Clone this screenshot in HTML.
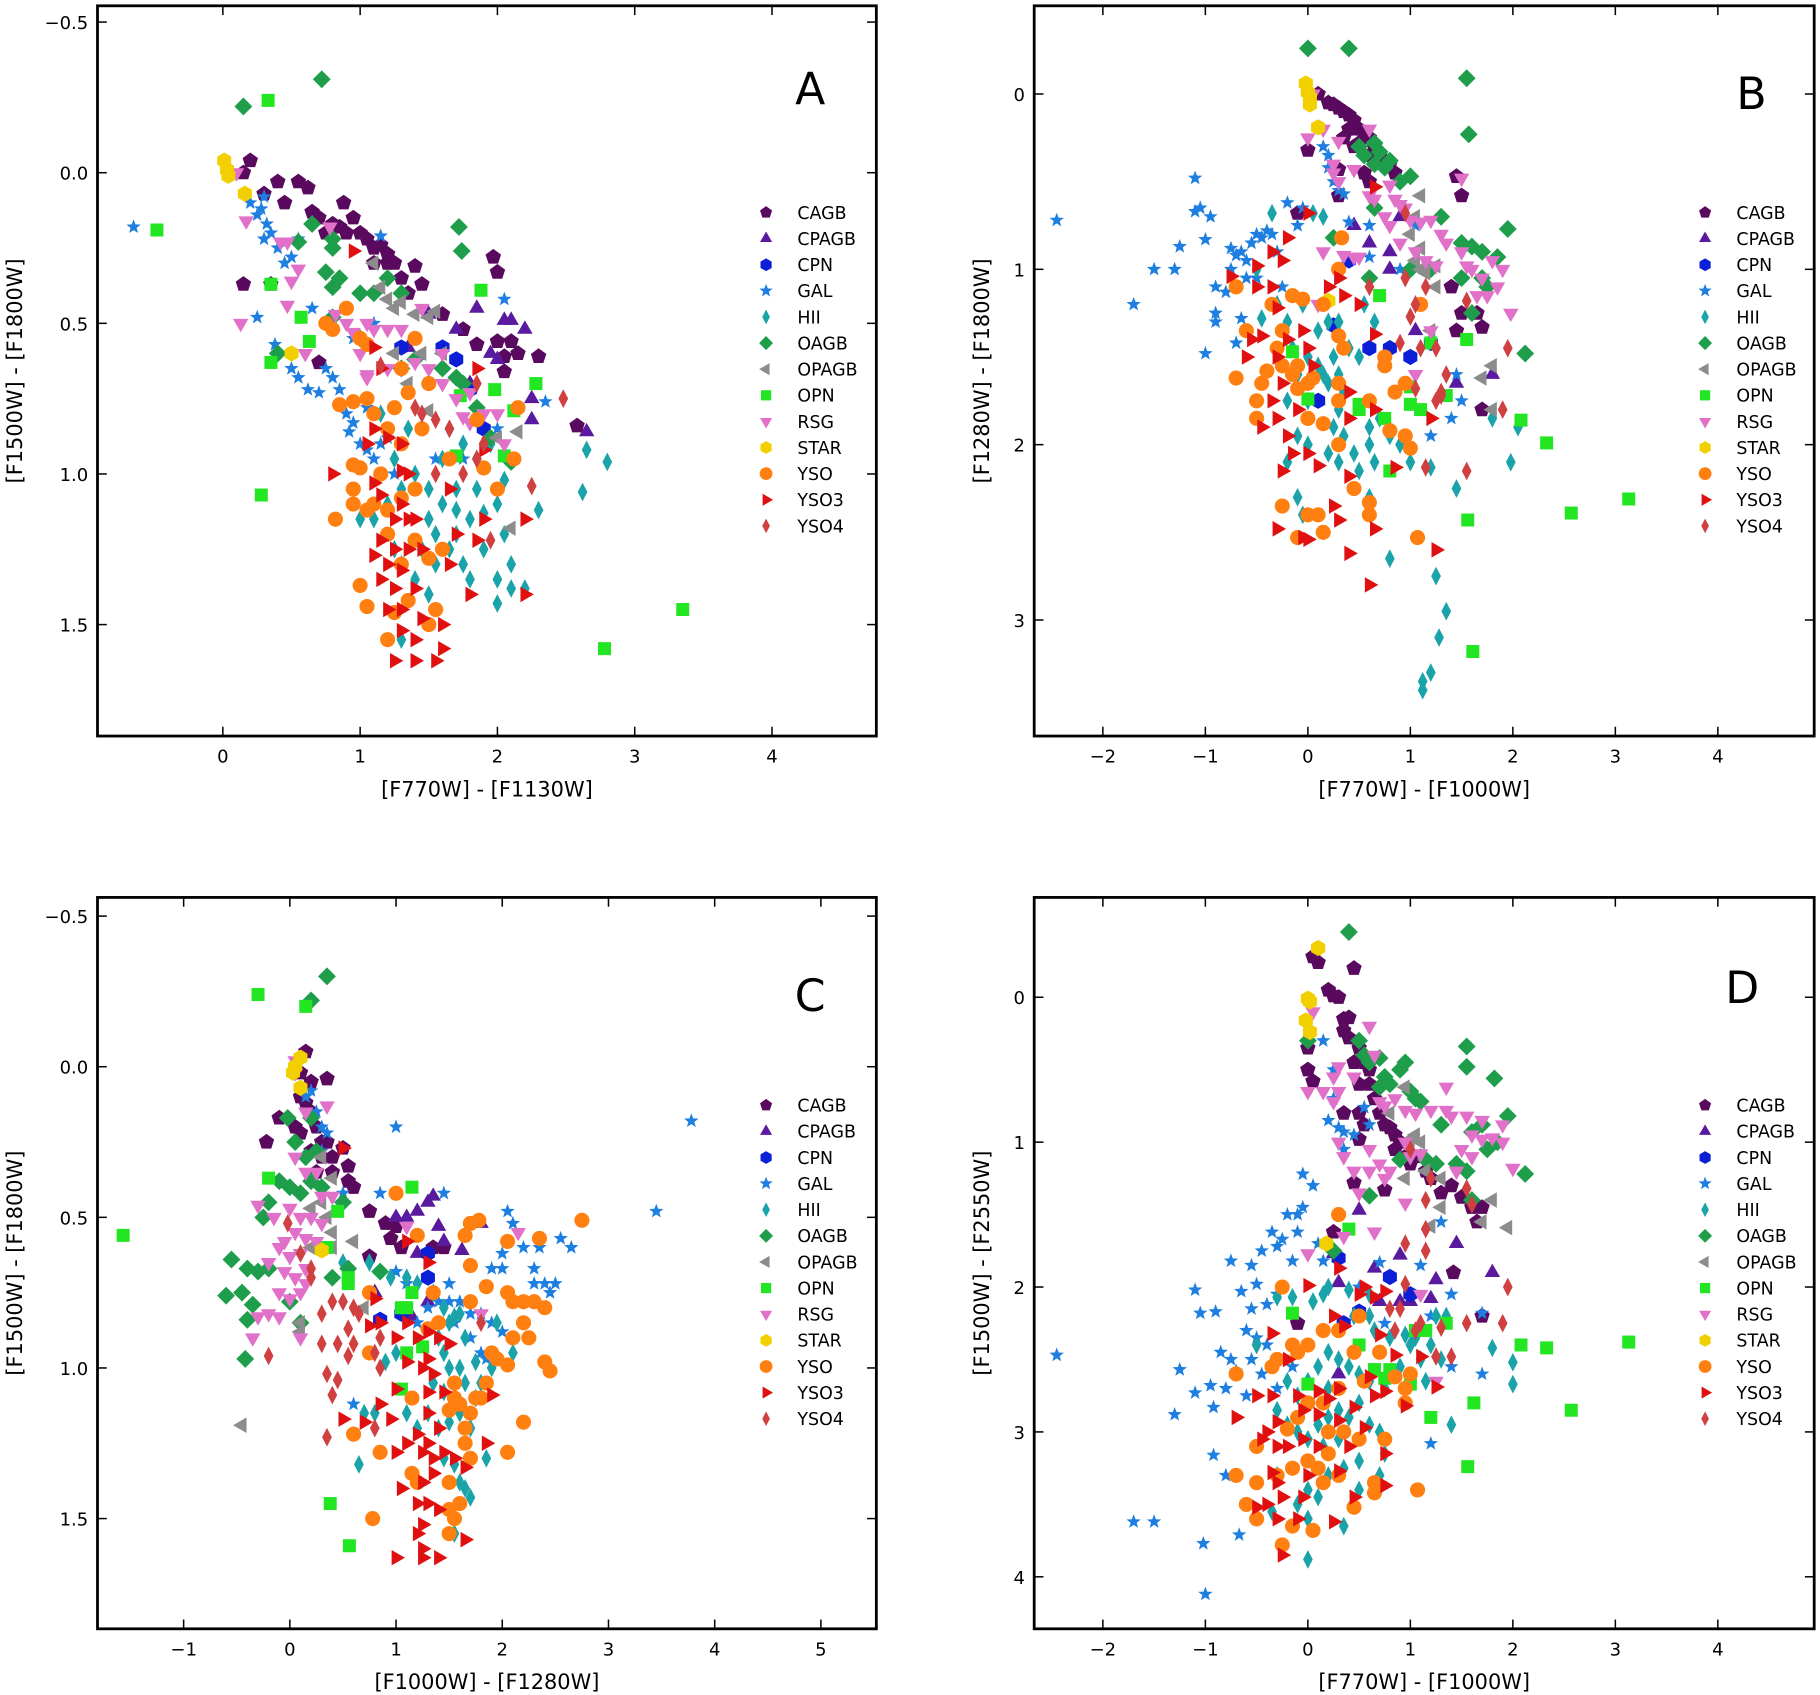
<!DOCTYPE html>
<html><head><meta charset="utf-8"><style>
html,body{margin:0;padding:0;background:#fff;}
svg{display:block;font-family:"DejaVu Sans","Liberation Sans",sans-serif;}
</style></head><body>
<svg id="fig" width="1820" height="1695" viewBox="0 0 1568 1460" preserveAspectRatio="none" xmlns="http://www.w3.org/2000/svg"></svg>
<script>
const classNames = ["CAGB","CPAGB","CPN","GAL","HII","OAGB","OPAGB","OPN","RSG","STAR","YSO","YSO3","YSO4"];
// ---------- Panel A: [F770W]-[F1130W] vs [F1500W]-[F1800W]
const A_CAGB=[[0.2,-0.04],[0.15,0.0],[0.3,0.07],[0.4,0.03],[0.45,0.1],[0.55,0.03],[0.62,0.05],[0.65,0.13],[0.7,0.15],[0.75,0.2],[0.8,0.17],[0.88,0.1],[0.9,0.2],[0.95,0.15],[1.0,0.2],[1.05,0.22],[1.1,0.25],[1.15,0.24],[1.2,0.27],[1.25,0.3],[1.3,0.35],[1.4,0.31],[1.45,0.37],[1.35,0.4],[1.6,0.47],[1.75,0.52],[1.85,0.57],[1.97,0.28],[2.0,0.33],[2.0,0.56],[2.1,0.56],[2.05,0.61],[2.15,0.6],[2.3,0.61],[2.05,0.66],[0.15,0.37],[0.7,0.63],[2.58,0.84],[0.35,0.37],[1.2,0.3],[0.85,0.18],[1.1,0.3]];
const A_CPAGB=[[1.7,0.52],[1.85,0.45],[2.05,0.49],[2.1,0.49],[2.2,0.52],[1.95,0.6],[2.0,0.62],[2.25,0.75],[2.25,0.82],[2.65,0.86],[1.5,0.47],[1.35,0.58],[1.8,0.7]];
const A_CPN=[[1.6,0.58],[1.7,0.62],[1.8,0.72],[1.9,0.85],[1.3,0.58]];
const A_GAL=[[-0.65,0.18],[0.2,0.1],[0.25,0.14],[0.28,0.12],[0.32,0.17],[0.35,0.2],[0.3,0.22],[0.4,0.25],[0.45,0.3],[0.5,0.28],[0.55,0.22],[0.25,0.48],[0.38,0.57],[0.5,0.65],[0.55,0.68],[0.62,0.72],[0.7,0.73],[0.75,0.65],[0.8,0.68],[0.85,0.72],[0.9,0.8],[0.92,0.86],[0.95,0.83],[1.0,0.9],[1.05,0.92],[1.1,0.95],[1.15,0.9],[1.2,0.88],[0.95,0.55],[1.05,0.78],[1.25,1.0],[2.05,0.42],[2.35,0.76],[1.55,0.95],[1.75,0.95],[0.3,0.08],[1.15,0.21],[2.0,0.85],[0.65,0.45],[1.1,0.5]];
const A_HII=[[1.1,1.15],[1.2,1.1],[1.3,1.05],[1.4,1.0],[1.5,1.05],[1.6,1.1],[1.7,1.12],[1.8,1.15],[1.9,1.13],[2.0,1.1],[2.05,1.2],[1.5,1.15],[1.45,1.25],[1.55,1.3],[1.65,1.25],[1.75,1.3],[1.8,1.35],[1.3,1.3],[1.4,1.35],[1.5,1.4],[1.55,1.2],[1.7,1.05],[1.6,0.95],[1.65,0.85],[1.75,0.9],[1.85,0.95],[1.95,0.9],[2.0,1.35],[2.1,1.3],[2.1,1.38],[2.2,1.38],[2.0,1.43],[2.05,1.02],[2.3,1.12],[2.62,1.06],[2.65,0.92],[2.8,0.96],[1.25,0.95],[1.35,0.85],[1.15,0.8],[1.3,1.55],[1.25,1.25],[1.0,1.15],[1.7,1.2],[1.85,1.05],[1.9,1.25]];
const A_OAGB=[[0.15,-0.22],[0.72,-0.31],[1.72,0.18],[1.74,0.26],[0.55,0.23],[0.65,0.17],[0.8,0.22],[0.8,0.25],[0.75,0.33],[0.85,0.35],[0.8,0.38],[1.0,0.4],[1.1,0.4],[1.2,0.35],[1.3,0.4],[0.8,0.48],[1.0,0.55],[1.3,0.65],[1.6,0.65],[1.7,0.68],[1.75,0.7],[1.85,0.78],[1.95,0.88],[2.1,0.96],[0.4,0.6],[1.4,0.62]];
const A_OPAGB=[[1.1,0.3],[1.15,0.38],[1.2,0.42],[1.25,0.45],[1.3,0.43],[1.4,0.47],[1.5,0.48],[1.55,0.46],[1.25,0.6],[1.45,0.6],[1.6,0.6],[1.5,0.79],[2.0,0.88],[2.15,0.86],[2.1,1.18],[1.35,0.7]];
const A_OPN=[[-0.48,0.19],[0.33,-0.24],[0.35,0.37],[0.57,0.48],[0.63,0.56],[0.35,0.63],[0.28,1.07],[1.88,0.39],[2.28,0.7],[1.98,0.72],[1.73,0.74],[1.7,0.94],[2.05,0.94],[2.12,0.79],[3.35,1.45],[2.78,1.58]];
const A_RSG=[[0.1,0.0],[0.17,0.16],[0.13,0.5],[0.42,0.23],[0.47,0.23],[0.55,0.32],[0.5,0.36],[0.47,0.44],[0.78,0.18],[0.82,0.47],[0.9,0.5],[0.95,0.53],[1.05,0.5],[1.1,0.52],[1.2,0.52],[1.3,0.52],[1.0,0.6],[1.05,0.67],[1.2,0.65],[1.3,0.65],[1.4,0.63],[1.5,0.65],[1.6,0.7],[1.7,0.75],[1.8,0.73],[1.75,0.81],[1.8,0.83],[1.9,0.8],[2.0,0.8],[2.05,0.9],[1.45,0.45],[0.6,0.6],[1.05,0.68],[1.6,0.6]];
const A_STAR=[[0.01,-0.04],[0.03,-0.01],[0.04,0.01],[0.16,0.07],[0.5,0.6]];
const A_YSO=[[0.9,0.45],[0.75,0.5],[0.8,0.52],[1.0,0.55],[1.05,0.57],[1.4,0.55],[1.3,0.65],[0.85,0.77],[0.95,0.76],[1.05,0.75],[1.1,0.8],[1.25,0.78],[1.35,0.73],[1.5,0.7],[1.2,0.85],[1.3,0.9],[1.45,0.85],[0.95,0.97],[1.0,0.98],[0.95,1.05],[0.95,1.1],[1.05,1.12],[1.1,1.1],[1.2,1.12],[1.3,1.08],[1.4,1.05],[0.82,1.15],[1.2,1.2],[1.4,1.22],[1.5,1.28],[1.3,1.3],[1.0,1.37],[1.05,1.44],[1.25,1.46],[1.35,1.42],[1.55,1.45],[1.5,1.5],[1.2,1.55],[1.85,0.82],[2.15,0.78],[2.12,0.95],[1.9,0.98],[1.65,0.95],[2.0,1.05],[1.6,1.25],[1.15,1.0]];
const A_YSO3=[[0.95,0.26],[0.8,1.0],[1.1,0.58],[1.15,0.65],[1.1,0.85],[1.2,0.88],[1.3,0.9],[1.3,0.99],[1.35,1.0],[1.1,1.03],[1.15,1.07],[1.3,1.1],[1.25,1.15],[1.35,1.15],[1.4,1.15],[1.15,1.22],[1.25,1.25],[1.35,1.25],[1.45,1.25],[1.1,1.27],[1.2,1.3],[1.3,1.32],[1.15,1.35],[1.25,1.38],[1.4,1.38],[1.2,1.45],[1.3,1.45],[1.45,1.48],[1.3,1.52],[1.4,1.55],[1.6,1.5],[1.6,1.58],[1.25,1.62],[1.4,1.62],[1.55,1.62],[1.85,0.65],[1.9,0.92],[1.65,1.05],[1.7,1.2],[1.65,1.3],[1.8,1.4],[1.9,1.15],[2.2,1.4],[2.2,1.15],[1.85,1.22],[1.05,0.9]];
const A_YSO4=[[2.48,0.75],[2.25,1.04],[1.95,1.22],[1.85,0.95],[1.75,1.0],[1.55,0.82],[1.4,0.78],[1.45,0.8],[1.15,0.64],[1.55,1.0],[1.65,0.85],[1.9,0.9],[1.85,0.7]];
// ---------- Panel B: [F770W]-[F1000W] vs [F1280W]-[F1800W]
const B_CAGB=[[0.1,0.0],[0.2,0.05],[0.25,0.06],[0.3,0.08],[0.35,0.1],[0.4,0.12],[0.45,0.15],[0.5,0.2],[0.55,0.22],[0.6,0.25],[0.65,0.3],[0.7,0.35],[0.75,0.38],[0.8,0.4],[0.85,0.45],[0.4,0.2],[0.35,0.25],[0.5,0.28],[0.6,0.35],[0.45,0.3],[0.0,0.32],[0.3,0.58],[1.45,0.47],[1.5,0.58],[1.7,1.33],[1.45,1.35],[1.5,1.25],[1.65,1.25],[1.4,1.1],[-0.1,0.68],[1.7,1.8],[0.3,0.43],[0.55,0.45],[0.6,0.5]];
const B_CPAGB=[[0.45,0.75],[0.6,0.85],[0.8,0.9],[0.8,1.0],[1.05,1.35],[1.45,1.65],[1.8,1.6],[0.9,0.7]];
const B_CPN=[[0.4,0.95],[0.6,1.45],[1.0,1.5],[0.8,1.45],[0.25,1.32],[1.2,1.42],[0.1,1.75]];
const B_GAL=[[-2.45,0.72],[-1.7,1.2],[-1.5,1.0],[-1.3,1.0],[-1.25,0.87],[-1.1,0.48],[-1.1,0.67],[-1.05,0.65],[-0.95,0.7],[-1.0,0.83],[-0.9,1.1],[-0.9,1.25],[-0.9,1.3],[-0.8,1.13],[-0.75,0.88],[-0.7,0.92],[-0.65,0.9],[-0.6,0.95],[-0.55,0.85],[-0.5,0.8],[-0.45,0.82],[-0.4,0.78],[-0.35,0.8],[-0.2,0.62],[-0.1,0.75],[-0.05,0.65],[-0.75,1.0],[-0.6,1.05],[-0.5,1.05],[-0.65,1.28],[-0.7,1.42],[-1.0,1.48],[0.15,0.3],[0.2,0.35],[0.25,0.5],[0.3,0.55],[0.35,0.57],[0.2,0.42],[0.4,0.73],[0.6,0.75],[0.6,0.93],[0.9,1.0],[1.45,1.6],[1.5,1.75],[1.4,1.85],[1.2,1.95],[1.05,0.75],[-0.3,0.9],[-0.25,1.1]];
const B_HII=[[-0.35,0.68],[0.05,0.68],[0.15,0.7],[-0.5,1.0],[-0.3,1.2],[-0.45,1.28],[-0.2,1.3],[-0.15,1.45],[0.0,1.5],[0.1,1.55],[0.15,1.6],[0.2,1.65],[0.3,1.6],[0.25,1.5],[0.1,1.35],[0.2,1.3],[0.3,1.3],[0.4,1.45],[0.5,1.5],[0.35,1.7],[0.3,1.8],[0.25,1.9],[0.35,1.95],[0.45,2.05],[0.3,2.1],[0.2,2.05],[0.0,1.75],[-0.1,1.6],[-0.2,1.75],[-0.1,1.95],[0.0,2.0],[0.6,1.9],[0.7,1.85],[0.6,2.0],[0.65,2.1],[0.8,1.95],[0.9,2.0],[0.55,1.2],[0.65,1.3],[-0.2,2.1],[-0.1,2.3],[-0.05,2.4],[0.6,2.3],[0.8,2.65],[1.25,2.75],[1.35,2.95],[1.28,3.1],[1.2,3.3],[1.12,3.35],[1.12,3.4],[1.0,2.1],[1.2,2.13],[1.45,2.25],[1.8,1.85],[1.98,2.1],[2.05,1.9],[0.5,2.15],[-0.05,1.2]];
const B_OAGB=[[0.0,-0.26],[0.4,-0.26],[1.55,-0.09],[1.57,0.23],[0.5,0.3],[0.55,0.35],[0.65,0.28],[0.7,0.33],[0.75,0.42],[0.65,0.4],[0.8,0.38],[0.9,0.5],[1.0,0.47],[1.3,0.7],[1.5,0.85],[1.6,0.87],[1.7,0.9],[1.85,0.93],[1.95,0.77],[1.0,1.0],[1.5,1.05],[1.6,1.25],[1.7,1.05],[1.75,1.1],[2.12,1.48],[0.6,1.05],[0.25,0.82],[0.65,0.65],[1.2,1.0]];
const B_OPAGB=[[1.05,0.7],[1.1,0.58],[1.0,0.8],[1.1,0.88],[1.05,0.95],[1.1,1.0],[1.15,1.02],[1.25,1.1],[1.2,1.35],[1.8,1.55],[1.7,1.62],[1.8,1.8],[1.25,0.98]];
const B_OPN=[[0.7,1.15],[1.2,1.42],[-0.15,1.47],[0.0,1.74],[0.5,1.77],[0.5,1.8],[0.75,1.85],[1.0,1.77],[1.0,1.67],[1.1,1.8],[1.35,1.72],[0.8,2.15],[2.08,1.86],[2.33,1.99],[1.56,2.43],[2.57,2.39],[3.13,2.31],[1.61,3.18],[1.55,1.4]];
const B_RSG=[[0.05,0.0],[0.0,0.25],[0.15,0.2],[0.3,0.27],[0.25,0.4],[0.25,0.45],[0.3,0.5],[0.45,0.43],[0.6,0.2],[0.6,0.58],[0.65,0.6],[0.75,0.7],[0.8,0.75],[0.8,0.52],[0.85,0.6],[0.9,0.63],[0.95,0.65],[1.0,0.72],[1.1,0.73],[1.2,0.72],[1.3,0.8],[1.35,0.85],[0.9,0.85],[1.05,0.9],[1.15,0.95],[1.25,0.98],[1.5,0.9],[1.55,0.98],[1.6,1.0],[1.7,1.05],[1.8,0.95],[1.9,1.0],[1.75,1.15],[1.85,1.1],[1.65,1.15],[1.98,1.25],[1.5,0.48],[0.45,0.93],[0.5,0.93],[0.35,0.92],[0.15,0.9],[0.1,1.2],[1.05,1.6],[1.2,1.35]];
const B_STAR=[[-0.02,-0.06],[0.0,-0.01],[0.02,0.02],[0.02,0.06],[0.1,0.19],[0.2,1.18]];
const B_YSO=[[-0.7,1.1],[-0.6,1.35],[-0.7,1.62],[-0.45,1.65],[-0.5,1.75],[-0.5,1.85],[-0.4,1.58],[-0.35,1.2],[-0.25,1.35],[-0.25,1.55],[-0.15,1.6],[-0.1,1.55],[-0.1,1.68],[0.0,1.65],[0.05,1.62],[-0.3,1.45],[-0.15,1.15],[-0.05,1.17],[0.15,1.2],[0.3,1.38],[0.35,1.45],[0.3,1.65],[0.3,1.75],[0.15,1.88],[0.3,2.0],[0.0,1.85],[-0.25,2.35],[0.0,2.4],[0.1,2.4],[0.15,2.5],[-0.1,2.53],[0.45,2.25],[0.6,2.4],[0.6,2.33],[1.07,2.53],[0.33,0.82],[0.3,1.0],[0.75,1.5],[0.75,1.55],[0.85,1.7],[0.95,1.65],[0.8,1.92],[0.95,1.95],[1.0,2.02],[1.1,1.2],[0.6,1.75]];
const B_YSO3=[[-0.75,1.04],[-0.5,0.98],[-0.35,0.9],[-0.25,0.95],[-0.2,0.82],[-0.5,1.1],[-0.35,1.1],[-0.3,1.22],[-0.55,1.4],[-0.6,1.5],[-0.45,1.38],[-0.3,1.5],[-0.2,1.4],[-0.05,1.35],[0.0,1.45],[0.05,1.55],[-0.25,1.65],[-0.35,1.75],[-0.3,1.85],[-0.45,1.9],[-0.2,1.95],[-0.1,1.8],[-0.15,2.05],[-0.25,2.15],[-0.3,2.48],[0.0,2.05],[0.1,2.12],[-0.05,2.53],[0.0,2.54],[0.25,2.35],[0.3,2.43],[0.4,2.18],[0.4,2.62],[0.65,2.48],[0.6,2.8],[1.25,2.6],[0.85,2.13],[0.2,1.1],[0.3,1.05],[0.35,1.15],[0.5,1.2],[0.65,1.37],[0.65,0.53],[0.0,0.68],[0.4,1.7],[0.65,1.8],[1.2,1.85],[0.4,1.85]];
const B_YSO4=[[0.6,1.1],[0.95,1.05],[1.0,1.27],[1.05,1.2],[0.9,1.42],[1.1,1.45],[1.05,1.68],[1.25,1.45],[1.3,1.72],[1.25,1.75],[1.3,1.7],[1.35,1.6],[1.55,1.18],[1.95,1.45],[1.9,1.8],[1.55,2.15],[1.15,2.13],[1.15,1.1],[0.95,0.68]];
// ---------- Panel C: [F1000W]-[F1280W] vs [F1500W]-[F1800W]
const C_CAGB=[[0.15,-0.05],[0.1,0.02],[0.2,0.05],[0.35,0.04],[0.1,0.1],[0.15,0.12],[0.2,0.15],[-0.1,0.17],[0.05,0.2],[0.1,0.22],[0.25,0.2],[0.3,0.25],[0.2,0.28],[0.3,0.3],[0.4,0.3],[0.5,0.27],[0.55,0.33],[0.4,0.35],[0.55,0.38],[0.6,0.4],[-0.22,0.25],[0.75,0.48],[0.9,0.52],[1.0,0.53],[0.95,0.57],[1.05,0.6],[1.35,0.6],[1.45,0.6],[0.75,0.63],[0.35,0.25],[0.25,0.35]];
const C_CPAGB=[[1.0,0.5],[1.1,0.5],[1.2,0.48],[1.3,0.45],[1.35,0.43],[1.4,0.53],[1.45,0.58],[1.8,0.52],[1.62,0.61],[1.2,0.62],[0.8,0.75],[1.15,0.83],[1.3,0.78]];
const C_CPN=[[1.3,0.62],[1.3,0.7],[0.85,0.84],[1.05,0.82]];
const C_GAL=[[0.15,0.1],[0.2,0.08],[0.25,0.15],[0.3,0.2],[0.35,0.22],[0.3,0.28],[1.0,0.2],[3.78,0.18],[3.45,0.48],[0.5,0.42],[0.85,0.42],[1.45,0.42],[2.05,0.48],[2.1,0.52],[2.0,0.62],[2.2,0.6],[2.35,0.6],[2.55,0.57],[2.65,0.6],[2.3,0.67],[2.0,0.67],[1.9,0.67],[2.4,0.72],[2.5,0.72],[2.3,0.72],[2.45,0.75],[1.8,0.82],[1.9,0.85],[2.0,0.88],[2.1,0.9],[1.5,0.78],[1.6,0.78],[1.7,0.82],[1.4,0.78],[1.3,0.8],[1.2,0.85],[1.55,0.85],[1.7,0.9],[1.8,0.95],[1.85,0.97],[0.6,1.12],[1.0,0.68],[1.1,0.72],[1.5,0.72]];
const C_HII=[[0.5,0.65],[0.75,0.65],[0.95,0.7],[1.1,0.7],[1.2,0.72],[1.35,0.75],[1.45,0.8],[1.5,0.85],[1.55,0.83],[1.6,0.82],[1.4,0.9],[1.45,0.95],[1.5,1.0],[1.6,1.0],[1.65,1.05],[1.55,1.1],[1.6,1.15],[1.7,1.2],[1.75,1.1],[1.8,1.05],[1.9,1.0],[1.95,0.85],[2.1,0.95],[1.5,1.18],[1.4,1.2],[1.3,1.15],[1.2,1.2],[1.1,1.15],[0.7,1.15],[0.8,1.15],[0.65,1.32],[1.45,1.3],[1.55,1.32],[1.6,1.38],[1.65,1.4],[1.7,1.43],[1.85,1.3],[1.55,1.55],[1.0,0.95],[0.9,0.98],[1.65,0.9],[1.75,0.98],[1.35,1.05],[1.45,1.08]];
const C_OAGB=[[0.35,-0.3],[0.2,-0.22],[0.2,0.17],[-0.02,0.17],[0.05,0.25],[0.15,0.3],[0.25,0.28],[-0.1,0.38],[0.0,0.4],[0.1,0.42],[0.2,0.38],[0.3,0.4],[-0.2,0.45],[-0.25,0.5],[-0.55,0.64],[-0.4,0.67],[-0.3,0.68],[-0.2,0.67],[-0.6,0.76],[-0.45,0.75],[-0.35,0.79],[-0.4,0.84],[-0.42,0.97],[0.1,0.85],[0.4,0.7],[0.55,0.67],[0.85,0.68],[0.5,0.45],[0.0,0.78]];
const C_OPAGB=[[0.3,0.3],[0.4,0.37],[0.3,0.45],[0.2,0.47],[0.35,0.5],[0.4,0.55],[0.6,0.58],[0.4,0.6],[0.7,0.8],[0.1,0.85],[0.1,0.88],[-0.45,1.19],[0.2,0.6]];
const C_OPN=[[-0.3,-0.24],[0.15,-0.2],[-0.2,0.37],[1.15,0.4],[0.45,0.48],[0.35,0.6],[-1.57,0.56],[0.55,0.72],[0.55,0.7],[1.15,0.75],[1.1,0.8],[1.05,0.8],[1.1,0.95],[1.25,0.93],[1.05,1.07],[0.38,1.45],[0.56,1.59]];
const C_RSG=[[0.05,0.02],[0.05,-0.02],[0.35,0.13],[0.15,0.15],[0.05,0.3],[0.15,0.35],[0.25,0.35],[0.3,0.43],[0.4,0.43],[-0.3,0.46],[-0.15,0.5],[0.0,0.47],[0.1,0.5],[0.2,0.5],[0.3,0.52],[0.05,0.55],[0.15,0.57],[0.25,0.58],[-0.1,0.6],[0.0,0.63],[0.1,0.62],[-0.2,0.65],[-0.05,0.68],[0.05,0.7],[0.15,0.72],[-0.1,0.75],[0.0,0.77],[0.1,0.75],[-0.3,0.83],[-0.2,0.82],[-0.1,0.83],[-0.35,0.9],[0.1,0.9],[1.1,0.53],[2.15,0.55],[1.8,0.82],[0.15,0.67],[-0.05,0.58]];
const C_STAR=[[0.1,-0.03],[0.05,0.0],[0.03,0.02],[0.1,0.07],[0.3,0.61]];
const C_YSO=[[1.0,0.42],[1.2,0.56],[1.65,0.56],[1.7,0.52],[1.78,0.51],[2.75,0.51],[2.05,0.58],[2.35,0.57],[1.7,0.66],[1.85,0.73],[1.35,0.75],[1.7,0.78],[2.05,0.75],[2.1,0.78],[2.2,0.78],[2.3,0.78],[2.4,0.8],[2.2,0.85],[2.1,0.9],[2.25,0.9],[2.4,0.98],[2.45,1.01],[2.05,0.99],[1.9,0.95],[1.95,0.97],[0.75,0.75],[0.75,0.95],[1.3,0.87],[1.4,0.85],[1.55,1.05],[1.55,1.1],[1.6,1.12],[1.5,1.14],[1.7,1.15],[1.75,1.1],[1.85,1.05],[1.8,1.1],[1.65,1.2],[1.65,1.25],[1.7,1.3],[2.05,1.28],[2.2,1.18],[0.6,1.22],[0.85,1.28],[1.15,1.35],[1.2,1.38],[1.5,1.38],[1.5,1.47],[1.55,1.5],[1.6,1.45],[0.78,1.5],[1.5,1.55],[1.15,1.1]];
const C_YSO3=[[0.5,0.27],[1.1,0.58],[1.3,0.65],[0.8,0.77],[0.75,0.86],[0.85,0.85],[1.0,0.9],[1.1,0.85],[1.2,0.9],[1.3,0.88],[1.4,0.9],[1.5,0.92],[1.1,0.98],[1.25,1.0],[1.35,1.02],[1.3,1.08],[1.0,1.07],[1.45,1.08],[0.85,1.12],[0.7,1.18],[0.5,1.17],[0.95,1.17],[1.3,1.15],[1.4,1.2],[1.2,1.22],[1.3,1.25],[1.1,1.25],[1.25,1.28],[1.35,1.3],[1.45,1.28],[1.55,1.3],[1.35,1.35],[1.25,1.38],[1.2,1.45],[1.3,1.45],[1.25,1.52],[1.4,1.47],[1.2,1.55],[1.25,1.6],[1.0,1.63],[1.25,1.63],[1.4,1.63],[1.65,1.57],[1.0,1.28],[1.05,1.4],[1.65,1.33],[1.9,1.09],[1.85,1.25],[1.3,0.97]];
const C_YSO4=[[-0.02,0.52],[0.1,0.62],[0.2,0.67],[0.2,0.7],[0.4,0.78],[0.5,0.78],[0.6,0.8],[0.65,0.82],[0.3,0.82],[0.55,0.87],[0.6,0.92],[0.3,0.92],[0.45,0.92],[0.55,0.96],[0.85,0.9],[0.8,0.95],[0.85,1.0],[0.35,1.02],[0.45,1.04],[0.4,1.09],[0.35,1.23],[0.8,1.2],[-0.2,0.96],[1.8,0.85]];
// ---------- Panel D: [F770W]-[F1000W] vs [F1500W]-[F2550W]
const D_CAGB=[[0.05,-0.28],[0.1,-0.24],[0.45,-0.2],[0.2,-0.05],[0.25,-0.01],[0.3,0.0],[0.35,0.15],[0.4,0.14],[0.35,0.23],[0.4,0.28],[0.5,0.35],[0.45,0.45],[0.55,0.45],[0.6,0.5],[0.6,0.6],[0.65,0.7],[0.7,0.8],[0.75,0.88],[0.8,0.9],[0.85,0.95],[0.9,1.0],[0.85,1.05],[0.95,1.1],[1.0,1.15],[1.1,1.1],[1.15,1.2],[1.2,1.25],[1.3,1.35],[1.4,1.3],[1.5,1.38],[1.6,1.45],[1.65,1.55],[1.7,1.45],[0.0,0.35],[0.0,0.5],[0.05,0.58],[0.35,0.8],[0.5,0.8],[0.5,0.98],[0.45,1.28],[0.75,1.33],[0.25,1.62],[1.42,1.9],[1.7,2.2],[-0.1,2.25],[0.5,0.6],[0.55,0.88]];
const D_CPAGB=[[0.5,1.47],[0.25,1.77],[0.9,1.78],[1.45,1.7],[0.65,1.87],[0.3,1.97],[0.7,2.1],[0.9,2.1],[1.0,2.1],[1.2,2.08],[1.25,1.95],[1.8,1.9],[0.3,2.6]];
const D_CPN=[[0.3,1.8],[0.8,1.93],[1.0,2.05],[0.5,2.17],[0.35,2.25]];
const D_GAL=[[-2.45,2.47],[-1.7,3.62],[-1.5,3.62],[-1.02,3.77],[-1.0,4.12],[-0.67,3.71],[-0.8,3.3],[-0.92,3.16],[-1.3,2.88],[-1.25,2.57],[-1.1,2.73],[-0.95,2.68],[-0.92,2.83],[-0.8,2.7],[-0.85,2.45],[-0.75,2.5],[-0.7,2.58],[-1.1,2.02],[-1.05,2.18],[-0.9,2.17],[-0.75,1.82],[-0.65,2.03],[-0.55,1.85],[-0.5,1.98],[-0.45,1.75],[-0.35,1.62],[-0.3,1.72],[-0.25,1.67],[-0.2,1.5],[-0.1,1.5],[-0.05,1.45],[-0.15,1.82],[-0.1,1.62],[-0.3,2.05],[-0.4,2.12],[-0.55,2.15],[-0.6,2.3],[-0.5,2.35],[-0.4,2.4],[-0.55,2.5],[-0.45,2.6],[-0.3,2.7],[-0.6,2.75],[-0.05,1.22],[0.05,1.3],[0.1,1.7],[0.15,1.82],[0.25,0.7],[0.15,0.3],[0.25,0.5],[0.2,0.85],[0.3,0.9],[0.35,0.93],[0.45,0.95],[0.35,1.05],[0.55,0.76],[0.6,0.88],[0.7,1.83],[0.5,2.0],[1.3,1.55],[1.2,2.2],[1.4,2.05],[1.7,2.18],[1.4,2.55],[1.7,2.6],[1.2,3.08],[0.75,2.25],[1.1,1.85],[-0.15,2.55]];
const D_HII=[[-0.5,2.4],[-0.3,2.07],[-0.15,2.07],[0.05,2.1],[0.15,2.05],[0.2,2.0],[0.4,2.02],[0.6,2.05],[0.45,2.2],[0.6,2.2],[0.65,2.3],[0.8,2.35],[0.95,2.33],[1.05,2.35],[1.2,2.4],[1.25,2.2],[1.35,2.2],[1.0,2.4],[1.1,2.5],[1.3,2.5],[0.9,2.55],[0.75,2.7],[0.6,2.65],[0.5,2.6],[0.4,2.55],[0.3,2.5],[0.2,2.45],[0.1,2.55],[0.0,2.65],[-0.1,2.75],[-0.2,2.65],[-0.3,2.85],[-0.2,2.95],[-0.1,3.0],[0.0,3.05],[0.1,2.95],[0.2,2.9],[0.3,2.85],[0.4,2.9],[0.5,2.8],[0.6,2.95],[0.7,3.0],[0.75,3.15],[0.5,3.2],[0.35,3.25],[0.2,3.3],[0.1,3.45],[0.0,3.4],[-0.1,3.5],[0.0,3.6],[0.35,3.65],[0.5,3.4],[0.7,3.3],[-0.3,3.3],[-0.35,3.55],[0.0,3.88],[1.4,2.95],[1.8,2.42],[2.0,2.52],[2.0,2.67],[1.15,2.65],[0.2,2.7],[0.15,3.1],[0.3,3.05]];
const D_OAGB=[[0.4,-0.45],[0.0,0.3],[0.5,0.3],[0.55,0.4],[0.6,0.45],[0.7,0.42],[0.75,0.55],[0.7,0.62],[0.8,0.6],[0.9,0.5],[0.95,0.45],[1.0,0.65],[1.05,0.7],[1.1,0.72],[1.55,0.34],[1.55,0.48],[1.82,0.56],[1.95,0.82],[2.12,1.22],[1.3,0.88],[1.7,0.88],[1.6,0.93],[1.75,1.05],[1.85,1.0],[1.45,1.15],[1.55,1.2],[1.15,1.12],[1.25,1.15],[1.6,1.4],[0.6,1.37],[0.9,1.12],[0.25,1.75]];
const D_OPAGB=[[0.8,0.8],[0.95,0.62],[1.05,0.95],[1.1,1.0],[0.95,1.25],[1.15,1.2],[1.3,1.25],[1.2,1.58],[1.3,1.45],[1.7,1.55],[1.8,1.4],[1.95,1.59],[1.0,0.98]];
const D_OPN=[[0.4,1.6],[-0.15,2.18],[0.5,2.4],[1.35,2.25],[1.05,2.3],[1.15,2.3],[0.65,2.57],[0.8,2.57],[0.75,2.63],[1.0,2.67],[0.0,2.67],[1.2,2.9],[1.62,2.8],[2.08,2.4],[2.33,2.42],[3.13,2.38],[2.57,2.85],[1.56,3.24]];
const D_RSG=[[0.05,0.1],[0.6,0.2],[0.3,0.48],[0.25,0.55],[0.45,0.55],[0.0,0.65],[0.15,0.65],[0.3,0.65],[0.25,0.72],[0.65,0.4],[0.7,0.72],[0.75,0.75],[0.85,0.7],[0.95,0.78],[1.05,0.8],[1.2,0.78],[1.35,0.78],[1.4,0.82],[1.55,0.82],[1.7,0.85],[1.9,0.88],[1.6,0.95],[1.7,0.98],[1.8,0.97],[1.9,1.0],[1.5,1.05],[1.6,1.1],[1.45,1.2],[0.3,1.0],[0.35,1.1],[0.45,1.2],[0.6,1.05],[0.6,1.2],[0.7,1.15],[0.75,1.25],[0.8,1.2],[0.95,1.0],[1.0,1.1],[1.1,1.08],[0.5,1.35],[0.95,1.42],[0.65,1.62],[0.35,1.65],[0.0,1.77],[1.1,2.05],[1.35,0.62],[2.0,1.18],[1.25,2.65]];
const D_STAR=[[0.1,-0.34],[0.0,0.01],[0.02,0.03],[-0.02,0.16],[0.02,0.24],[0.18,1.7]];
const D_YSO=[[0.3,1.5],[-0.25,2.0],[0.0,2.4],[-0.1,2.45],[-0.15,2.4],[-0.3,2.5],[-0.35,2.55],[-0.7,2.6],[0.15,2.3],[0.3,2.3],[0.5,2.2],[0.45,2.45],[0.7,2.45],[0.85,2.62],[1.0,2.6],[0.95,2.7],[0.55,2.65],[0.3,2.7],[0.15,2.8],[0.0,2.8],[-0.1,2.9],[-0.2,2.98],[0.2,3.0],[0.35,3.0],[0.5,3.05],[0.2,3.15],[0.0,3.2],[-0.15,3.25],[-0.3,3.3],[-0.5,3.1],[-0.5,3.35],[-0.6,3.5],[-0.5,3.6],[-0.7,3.3],[0.15,3.35],[0.3,3.3],[0.45,3.52],[0.65,3.42],[0.65,3.35],[-0.15,3.65],[0.05,3.68],[-0.25,3.78],[0.75,3.05],[0.95,2.8],[1.07,3.4],[0.1,3.25]];
const D_YSO3=[[0.3,1.87],[0.35,2.27],[0.55,2.0],[0.65,2.07],[0.75,2.03],[0.7,2.33],[0.5,2.05],[0.25,2.2],[-0.35,2.32],[0.0,1.99],[-0.2,2.5],[-0.5,2.75],[-0.35,2.75],[-0.1,2.75],[0.1,2.72],[0.2,2.77],[0.3,2.7],[0.6,2.62],[0.65,2.75],[0.75,2.72],[0.85,2.47],[0.95,2.82],[1.1,2.48],[1.25,2.69],[0.45,2.83],[0.3,2.92],[0.1,2.88],[-0.05,2.85],[-0.3,2.93],[-0.4,3.0],[-0.45,3.05],[-0.3,3.1],[-0.2,3.1],[-0.05,3.05],[0.1,3.1],[0.4,3.1],[0.55,2.97],[0.75,3.15],[0.3,3.27],[0.0,3.3],[-0.35,3.28],[-0.3,3.35],[-0.25,3.45],[-0.4,3.5],[-0.5,3.52],[-0.3,3.6],[-0.1,3.6],[0.25,3.62],[0.45,3.45],[0.75,3.37],[-0.25,3.85],[-0.7,2.9],[-0.05,3.45]];
const D_YSO4=[[1.2,1.25],[1.15,1.4],[1.55,1.32],[1.6,1.43],[1.15,1.6],[0.95,1.7],[1.15,1.75],[0.95,1.98],[0.9,2.15],[1.05,2.3],[1.1,2.25],[1.3,2.28],[1.25,2.48],[1.4,2.48],[1.55,2.25],[1.9,2.25],[1.95,2.0],[0.8,2.15],[0.85,2.3],[1.0,1.05]];
// tick labels
const A_xTicks=[0,1,2,3,4], A_yTicks=[-0.5,0,0.5,1,1.5];
const B_xTicks=[-2,-1,0,1,2,3,4], B_yTicks=[0,1,2,3];
const C_xTicks=[-1,0,1,2,3,4,5], C_yTicks=[-0.5,0,0.5,1,1.5];
const D_xTicks=[-2,-1,0,1,2,3,4], D_yTicks=[0,1,2,3,4];

const NS="http://www.w3.org/2000/svg";
const svg=document.getElementById('fig');
const styles={
 CAGB:{shape:'pent',c:'#5a0a5e'}, CPAGB:{shape:'tri',c:'#5a1aa0'}, CPN:{shape:'hex',c:'#0a1fd6'},
 GAL:{shape:'star',c:'#1e7fe0'}, HII:{shape:'thin',c:'#1aa3a8'}, OAGB:{shape:'dia',c:'#1e9e4a'},
 OPAGB:{shape:'ltri',c:'#8c8c8c'}, OPN:{shape:'sq',c:'#22e622'}, RSG:{shape:'dtri',c:'#e070c8'},
 STAR:{shape:'hex',c:'#f2d000'}, YSO:{shape:'circ',c:'#ff8010'}, YSO3:{shape:'rtri',c:'#e01010'}, YSO4:{shape:'thin',c:'#d04040'}
};
function poly(pts){return 'M'+pts.map(p=>p[0].toFixed(1)+','+p[1].toFixed(1)).join('L')+'Z';}
function shapePath(s,x,y,r){
 const reg=(n,rot,rr)=>{const a=[];for(let i=0;i<n;i++){const t=rot+i*2*Math.PI/n;a.push([x+rr*Math.cos(t),y+rr*Math.sin(t)]);}return poly(a);};
 switch(s){
  case 'pent': return reg(5,-Math.PI/2,r);
  case 'hex': return reg(6,-Math.PI/2,r);
  case 'tri': return reg(3,-Math.PI/2,r*1.1);
  case 'dtri': return reg(3,Math.PI/2,r*1.1);
  case 'ltri': return reg(3,Math.PI,r*1.1);
  case 'rtri': return reg(3,0,r*1.1);
  case 'sq': return poly([[x-r*0.8,y-r*0.8],[x+r*0.8,y-r*0.8],[x+r*0.8,y+r*0.8],[x-r*0.8,y+r*0.8]]);
  case 'dia': return poly([[x,y-r*1.1],[x+r*1.1,y],[x,y+r*1.1],[x-r*1.1,y]]);
  case 'thin': return poly([[x,y-r*1.15],[x+r*0.6,y],[x,y+r*1.15],[x-r*0.6,y]]);
  case 'star': {const a=[];for(let i=0;i<10;i++){const t=-Math.PI/2+i*Math.PI/5;const rr=i%2?r*0.42:r;a.push([x+rr*Math.cos(t),y+rr*Math.sin(t)]);}return poly(a);}
  case 'circ': return `M${x-r},${y}a${r},${r} 0 1,0 ${2*r},0a${r},${r} 0 1,0 ${-2*r},0Z`;
 }
}
function el(tag,attrs,parent){const e=document.createElementNS(NS,tag);for(const k in attrs)e.setAttribute(k,attrs[k]);(parent||svg).appendChild(e);return e;}
function fmt(v,dec){const s=v.toFixed(dec);return v<0?'\u2212'+s.slice(1):s;}

const panels=[
 {id:'a',letter:'A',box:[84,5,755,634],xd:[-0.913,4.76],yd:[-0.554,1.87],xt:A_xTicks,yt:A_yTicks,ydec:1,xl:'[F770W] - [F1130W]',yl:'[F1500W] - [F1800W]',ylx:12,lx:660,ly:183,let:[698,90],
  data:{CAGB:A_CAGB,CPAGB:A_CPAGB,CPN:A_CPN,GAL:A_GAL,HII:A_HII,OAGB:A_OAGB,OPAGB:A_OPAGB,OPN:A_OPN,RSG:A_RSG,STAR:A_STAR,YSO:A_YSO,YSO3:A_YSO3,YSO4:A_YSO4}},
 {id:'b',letter:'B',box:[891,5,1563,634],xd:[-2.67,4.94],yd:[-0.503,3.662],xt:B_xTicks,yt:B_yTicks,ydec:0,xl:'[F770W] - [F1000W]',yl:'[F1280W] - [F1800W]',ylx:845,lx:1469,ly:183,let:[1509,94],
  data:{CAGB:B_CAGB,CPAGB:B_CPAGB,CPN:B_CPN,GAL:B_GAL,HII:B_HII,OAGB:B_OAGB,OPAGB:B_OPAGB,OPN:B_OPN,RSG:B_RSG,STAR:B_STAR,YSO:B_YSO,YSO3:B_YSO3,YSO4:B_YSO4}},
 {id:'c',letter:'C',box:[84,773,755,1403],xd:[-1.811,5.522],yd:[-0.562,1.866],xt:C_xTicks,yt:C_yTicks,ydec:1,xl:'[F1000W] - [F1280W]',yl:'[F1500W] - [F1800W]',ylx:12,lx:660,ly:952,let:[698,871],
  data:{CAGB:C_CAGB,CPAGB:C_CPAGB,CPN:C_CPN,GAL:C_GAL,HII:C_HII,OAGB:C_OAGB,OPAGB:C_OPAGB,OPN:C_OPN,RSG:C_RSG,STAR:C_STAR,YSO:C_YSO,YSO3:C_YSO3,YSO4:C_YSO4}},
 {id:'d',letter:'D',box:[891,773,1563,1403],xd:[-2.67,4.94],yd:[-0.689,4.359],xt:D_xTicks,yt:D_yTicks,ydec:0,xl:'[F770W] - [F1000W]',yl:'[F1500W] - [F2550W]',ylx:845,lx:1469,ly:952,let:[1501,864],
  data:{CAGB:D_CAGB,CPAGB:D_CPAGB,CPN:D_CPN,GAL:D_GAL,HII:D_HII,OAGB:D_OAGB,OPAGB:D_OPAGB,OPN:D_OPN,RSG:D_RSG,STAR:D_STAR,YSO:D_YSO,YSO3:D_YSO3,YSO4:D_YSO4}}
];

panels.forEach(p=>{
 const [L,T,R,B]=p.box;
 const sx=v=>L+(v-p.xd[0])/(p.xd[1]-p.xd[0])*(R-L);
 const sy=v=>T+(v-p.yd[0])/(p.yd[1]-p.yd[0])*(B-T);
 const g=el('g',{});
 
 
 const clipId='clip'+p.id;
 const cp=el('clipPath',{id:clipId},g); el('rect',{x:L,y:T,width:R-L,height:B-T},cp);
 const marks=el('g',{'clip-path':`url(#${clipId})`},g);
 
 
 classNames.forEach(cn=>{
  const st=styles[cn];
  const sg=el('g',{fill:st.c},marks);
  
  
  const r = st.shape==='star'?6.5:(st.shape==='circ'?6.5:7);
  p.data[cn].forEach(pt=>{
   const m=el('path',{d:shapePath(st.shape,sx(pt[0]),sy(pt[1]),r)},sg);
   
   
  });
 });
 const fr=el('rect',{x:L,y:T,width:R-L,height:B-T,fill:'none',stroke:'#000','stroke-width':2.4},g);
 
 
 p.xt.forEach(v=>{
  const x=sx(v);
  el('line',{x1:x,y1:B,x2:x,y2:B-8,stroke:'#000','stroke-width':1.3},g);
  el('line',{x1:x,y1:T,x2:x,y2:T+8,stroke:'#000','stroke-width':1.3},g);
  const t=el('text',{x:x,y:B+23,'text-anchor':'middle','font-size':15.5,fill:'#000'},g);
  t.textContent=v<0?'\u2212'+Math.abs(v):String(v);
  
  
 });
 p.yt.forEach(v=>{
  const y=sy(v);
  el('line',{x1:L,y1:y,x2:L+8,y2:y,stroke:'#000','stroke-width':1.3},g);
  el('line',{x1:R,y1:y,x2:R-8,y2:y,stroke:'#000','stroke-width':1.3},g);
  const t=el('text',{x:L-8,y:y+6,'text-anchor':'end','font-size':15.5,fill:'#000'},g);
  t.textContent=fmt(v,p.ydec);
  
  
 });
 const xl=el('text',{x:(L+R)/2,y:B+52,'text-anchor':'middle','font-size':18,fill:'#000'},g);
 xl.textContent=p.xl;
 
 
 const ycy=(T+B)/2;
 const yl=el('text',{x:p.ylx+7,y:ycy,'text-anchor':'middle','font-size':18,fill:'#000',transform:`rotate(-90 ${p.ylx+7} ${ycy})`},g);
 yl.textContent=p.yl;
 
 
 const lt=el('text',{x:p.let[0],y:p.let[1],'text-anchor':'middle','font-size':38,fill:'#000'},g);
 lt.textContent=p.letter;
 
 
 const lg=el('g',{},g);
 
 
 classNames.forEach((cn,i)=>{
  const y=p.ly+i*22.5;
  const st=styles[cn];
  const e=el('g',{},lg);
  
  
  el('path',{d:shapePath(st.shape,p.lx,y,st.shape==='star'?6:5.5),fill:st.c},e);
  const t=el('text',{x:p.lx+27,y:y+5.5,'font-size':15,fill:'#000'},e);
  t.textContent=cn;
 });
});
</script>
</body></html>
